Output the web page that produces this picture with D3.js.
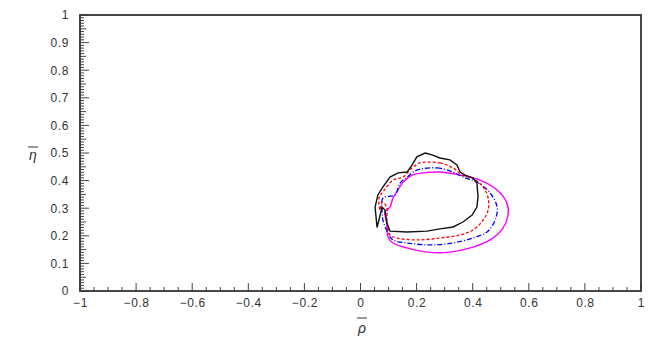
<!DOCTYPE html>
<html>
<head>
<meta charset="utf-8">
<script src="https://cdn.jsdelivr.net/npm/d3@7"></script>
<style>
  body { margin: 0; background: #fff; }
  svg { display: block; }
  text { font-family: "Liberation Sans", Arial, sans-serif; }
</style>
</head>
<body>
<div id="chart"></div>
<script>
// contour points [rhoBar, etaBar]
var blackContour = [[0.230,0.500],[0.255,0.493],[0.283,0.482],[0.319,0.475],[0.344,0.457],[0.355,0.431],[0.373,0.420],[0.401,0.409],[0.415,0.391],[0.419,0.341],[0.415,0.304],[0.398,0.275],[0.365,0.250],[0.330,0.232],[0.283,0.225],[0.237,0.217],[0.166,0.214],[0.105,0.217],[0.094,0.246],[0.087,0.293],[0.077,0.304],[0.059,0.230],[0.052,0.304],[0.062,0.348],[0.080,0.377],[0.105,0.413],[0.134,0.428],[0.166,0.431],[0.184,0.457],[0.201,0.486]];
var redContour = [[0.237,0.467],[0.283,0.464],[0.330,0.446],[0.362,0.420],[0.401,0.409],[0.437,0.377],[0.455,0.337],[0.455,0.293],[0.437,0.257],[0.401,0.221],[0.355,0.203],[0.283,0.192],[0.201,0.185],[0.130,0.192],[0.105,0.203],[0.094,0.257],[0.094,0.304],[0.077,0.322],[0.070,0.293],[0.066,0.337],[0.080,0.359],[0.116,0.402],[0.152,0.413],[0.184,0.446],[0.212,0.464]];
var blueContour = [[0.201,0.438],[0.273,0.446],[0.330,0.431],[0.365,0.413],[0.415,0.395],[0.462,0.355],[0.487,0.304],[0.480,0.257],[0.451,0.214],[0.401,0.192],[0.330,0.174],[0.248,0.167],[0.166,0.174],[0.116,0.185],[0.098,0.210],[0.080,0.257],[0.077,0.293],[0.080,0.337],[0.123,0.348],[0.141,0.391],[0.166,0.413]];
var magentaContour = [[0.223,0.428],[0.283,0.431],[0.355,0.420],[0.426,0.402],[0.487,0.366],[0.522,0.319],[0.526,0.275],[0.508,0.228],[0.462,0.185],[0.401,0.159],[0.319,0.141],[0.237,0.141],[0.166,0.156],[0.116,0.174],[0.098,0.196],[0.094,0.246],[0.087,0.286],[0.105,0.304],[0.116,0.337],[0.134,0.366],[0.152,0.395],[0.184,0.420]];

var xTicks = [-1,-0.8,-0.6,-0.4,-0.2,0,0.2,0.4,0.6,0.8,1];
var yTicks = [0,0.1,0.2,0.3,0.4,0.5,0.6,0.7,0.8,0.9,1];

var W = 650, H = 341;
var padL = 80, padR = 641, padT = 15, padB = 291;

var svg = d3.select("#chart").append("svg")
  .attr("width", W).attr("height", H);

var x = d3.scaleLinear().domain([-1, 1]).range([padL, padR]);
var y = d3.scaleLinear().domain([0, 1]).range([padB, padT]);

// ticks drawn from the scales, pointing inward like ROOT
var g = svg.append("g");
d3.range(0, 41).forEach(function(i) {
  var v = -1 + i * 0.05;
  var major = i % 4 === 0;
  g.append("line")
    .attr("x1", x(v)).attr("x2", x(v))
    .attr("y1", padB).attr("y2", padB - (major ? 8 : 4))
    .attr("stroke", "#444").attr("stroke-width", 1);
});
d3.range(0, 101).forEach(function(k) {
  var v = k / 100;
  var len = k % 10 === 0 ? 9 : (k % 5 === 0 ? 6 : 4);
  g.append("line")
    .attr("x1", padL).attr("x2", padL + len)
    .attr("y1", y(v)).attr("y2", y(v))
    .attr("stroke", "#444").attr("stroke-width", 1);
});

// tick labels through d3 axes (tick lines hidden)
var xAxis = svg.append("g")
  .attr("transform", "translate(0," + padB + ")")
  .call(d3.axisBottom(x).tickValues(xTicks).tickSize(0).tickPadding(7)
    .tickFormat(function(d) { return d === 0 ? "0" : String(d).replace("-", "\u2212"); }));
xAxis.select(".domain").remove();
xAxis.selectAll("text").attr("font-size", 12).attr("letter-spacing", 0.6).attr("fill", "#333");

var yAxis = svg.append("g")
  .attr("transform", "translate(" + padL + ",0)")
  .call(d3.axisLeft(y).tickValues(yTicks).tickSize(0).tickPadding(11)
    .tickFormat(function(d) { return String(d); }));
yAxis.select(".domain").remove();
yAxis.selectAll("text").attr("font-size", 12).attr("letter-spacing", 0.6).attr("fill", "#333");

// frame
svg.append("rect")
  .attr("x", padL).attr("y", padT)
  .attr("width", padR - padL).attr("height", padB - padT)
  .attr("fill", "none").attr("stroke", "#333").attr("stroke-width", 1.8);

// contours
var smooth = d3.line().x(function(d) { return x(d[0]); }).y(function(d) { return y(d[1]); })
  .curve(d3.curveCatmullRomClosed);
var jagged = d3.line().x(function(d) { return x(d[0]); }).y(function(d) { return y(d[1]); })
  .curve(d3.curveLinearClosed);

svg.append("path").datum(magentaContour)
  .attr("d", smooth).attr("fill", "none").attr("stroke", "#ff00ff").attr("stroke-width", 1.4);
svg.append("path").datum(blueContour)
  .attr("d", smooth).attr("fill", "none").attr("stroke", "#0000ff").attr("stroke-width", 1.3)
  .attr("stroke-dasharray", "5,2,1,2");
svg.append("path").datum(redContour)
  .attr("d", smooth).attr("fill", "none").attr("stroke", "#ff0000").attr("stroke-width", 1.3)
  .attr("stroke-dasharray", "3,2");
svg.append("path").datum(blackContour)
  .attr("d", jagged).attr("fill", "none").attr("stroke", "#111").attr("stroke-width", 1.4);

// axis titles
svg.append("text").attr("x", 362).attr("y", 333)
  .attr("text-anchor", "middle").attr("font-size", 14).attr("fill", "#333")
  .attr("font-style", "italic").text("\u03c1");
svg.append("line").attr("x1", 357).attr("x2", 367).attr("y1", 318).attr("y2", 318)
  .attr("stroke", "#333").attr("stroke-width", 1);
svg.append("text").attr("x", 33).attr("y", 160)
  .attr("text-anchor", "middle").attr("font-size", 14).attr("fill", "#333")
  .attr("font-style", "italic").text("\u03b7");
svg.append("line").attr("x1", 28).attr("x2", 38).attr("y1", 147).attr("y2", 147)
  .attr("stroke", "#333").attr("stroke-width", 1);
</script>
</body>
</html>
